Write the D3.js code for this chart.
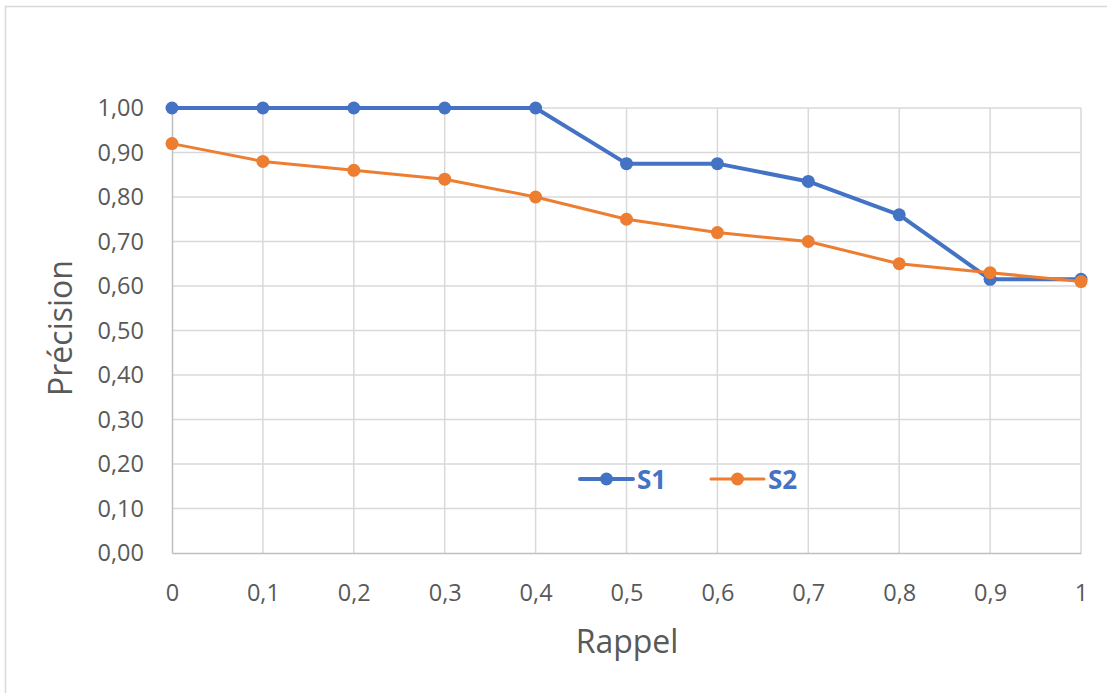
<!DOCTYPE html>
<html><head><meta charset="utf-8">
<script src="https://cdn.jsdelivr.net/npm/d3@7"></script>
<style>body{margin:0;background:#fff}svg{display:block}text{font-family:"Open Sans",sans-serif}</style>
</head><body><svg id="c" width="1107" height="693"></svg>
<script>
const xValues = [0, 0.1, 0.2, 0.3, 0.4, 0.5, 0.6, 0.7, 0.8, 0.9, 1];
const xTickLabels = ["0", "0,1", "0,2", "0,3", "0,4", "0,5", "0,6", "0,7", "0,8", "0,9", "1"];
const s1Values = [1.00, 1.00, 1.00, 1.00, 1.00, 0.875, 0.875, 0.835, 0.76, 0.615, 0.615];
const s2Values = [0.92, 0.88, 0.86, 0.84, 0.80, 0.75, 0.72, 0.70, 0.65, 0.63, 0.61];
const yTicks = [0, 0.1, 0.2, 0.3, 0.4, 0.5, 0.6, 0.7, 0.8, 0.9, 1.0];
const seriesNames = ["S1", "S2"];
const colors = ["#4472C4", "#ED7D31"];

const svg = d3.select("#c");
svg.append("rect").attr("x",5.5).attr("y",6.5).attr("width",1120).attr("height",700)
  .attr("fill","none").attr("stroke","#d9d9d9").attr("stroke-width",1.5);

const x = d3.scaleLinear().domain([0,1]).range([172,1081]);
const y = d3.scaleLinear().domain([0,1]).range([553,108]);

// gridlines
svg.append("g").selectAll("line").data(yTicks.slice(1)).join("line")
  .attr("x1",172).attr("x2",1081).attr("y1",d=>y(d)).attr("y2",d=>y(d))
  .attr("stroke","#d9d9d9").attr("stroke-width",1.5);
svg.append("g").selectAll("line").data(xValues.slice(1)).join("line")
  .attr("x1",d=>x(d)).attr("x2",d=>x(d)).attr("y1",108).attr("y2",553)
  .attr("stroke","#d9d9d9").attr("stroke-width",1.5);

// axes
const yAxis = d3.axisLeft(y).tickValues(yTicks).tickSize(0).tickPadding(28)
  .tickFormat(d=>d3.format(".2f")(d).replace(".",","));
const gy = svg.append("g").attr("transform","translate(172,0)").call(yAxis);
gy.select(".domain").attr("stroke","#bfbfbf").attr("stroke-width",1.5);
gy.selectAll("text").attr("fill","#595959").attr("font-size",23.5);

const xAxis = d3.axisBottom(x).tickValues(xValues).tickSize(0).tickPadding(31)
  .tickFormat((d,i)=>xTickLabels[i]);
const gx = svg.append("g").attr("transform","translate(0,553)").call(xAxis);
gx.select(".domain").attr("stroke","#bfbfbf").attr("stroke-width",1.5);
gx.selectAll("text").attr("fill","#595959").attr("font-size",23.5);

// titles
svg.append("text").attr("x",627).attr("y",653).attr("text-anchor","middle")
  .attr("fill","#595959").attr("font-size",32).text("Rappel");
svg.append("text").attr("transform","translate(72,328) rotate(-90)").attr("text-anchor","middle")
  .attr("fill","#595959").attr("font-size",32).text("Précision");

// series
const line = d3.line().x((d,i)=>x(xValues[i])).y(d=>y(d));
[s1Values, s2Values].forEach((vals,k)=>{
  svg.append("path").datum(vals).attr("d",line).attr("fill","none")
    .attr("stroke",colors[k]).attr("stroke-width",k===0?4:3).attr("stroke-linejoin","round");
  svg.append("g").selectAll("circle").data(vals).join("circle")
    .attr("cx",(d,i)=>x(xValues[i])).attr("cy",d=>y(d)).attr("r",6.5).attr("fill",colors[k]);
});

// legend
const legX = [580, 711];
seriesNames.forEach((n,k)=>{
  const g = svg.append("g").attr("transform",`translate(${legX[k]},479)`);
  g.append("line").attr("x1",0).attr("x2",53).attr("stroke",colors[k]).attr("stroke-width",k===0?4:3).attr("stroke-linecap","round");
  g.append("circle").attr("cx",26.5).attr("r",6.5).attr("fill",colors[k]);
  g.append("text").attr("x",57).attr("y",10).attr("fill","#4472C4").attr("font-weight","bold").attr("font-size",26).text(n);
});
</script></body></html>
